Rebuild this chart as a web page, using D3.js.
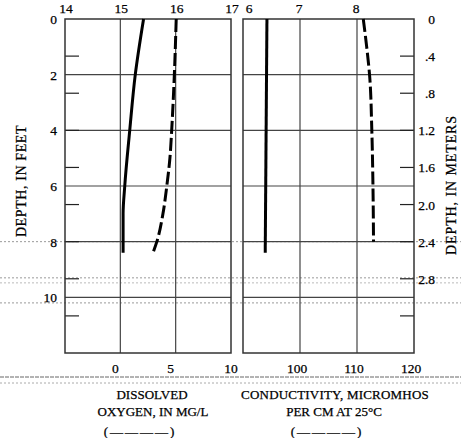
<!DOCTYPE html>
<html><head><meta charset="utf-8">
<script src="https://cdn.jsdelivr.net/npm/d3@7"></script>
<style>
html,body{margin:0;padding:0;background:#fff;}
svg{display:block;}
text{font-family:"Liberation Serif","DejaVu Serif",serif;fill:#000;stroke:#000;stroke-width:0.25;}
</style></head>
<body>
<svg id="chart" width="461" height="438"></svg>
<script>
// ---- data (depth in feet) ----
const tempDepth = [0, 2, 4, 6, 7, 8.4];
const tempValues = [15.42, 15.27, 15.17, 15.08, 15.05, 15.05];      // water temperature, deg C (top left axis)
const doDepth = [0, 2, 4, 5, 6, 7, 8, 8.4];
const doValues = [5.05, 4.88, 4.64, 4.48, 4.2, 3.85, 3.3, 2.95];    // dissolved oxygen, mg/L (bottom left axis)
const phDepth = [0, 8.4];
const phValues = [6.42, 6.39];                                      // pH (top right axis)
const condDepth = [0, 1, 2, 4, 6, 8];
const condValues = [111.1, 111.7, 112.2, 112.6, 112.8, 112.9];      // conductivity (bottom right axis)

const tempTicks = [14, 15, 16, 17];
const doTicks = [0, 5, 10];
const phTicks = [6, 7, 8];
const condTicks = [100, 110, 120];
const feetTicks = [0, 2, 4, 6, 8, 10];
const feetGrid = [2, 4, 6, 8, 10];
const meterLabels = [0, 0.4, 0.8, 1.2, 1.6, 2.0, 2.4, 2.8];
const meterTicks = [0.4, 0.8, 1.2, 1.6, 2.0, 2.4, 2.8, 3.2];
const meterLabelText = ["0", ".4", ".8", "1.2", "1.6", "2.0", "2.4", "2.8"];
const scanLineDepths = [9.3, 9.48, 10.2];   // faint dotted scan lines in the reference

// ---- layout ----
const yTop = 19, yBot = 353;
const L = {x0: 65, x1: 231}, R = {x0: 243, x1: 414};
const svg = d3.select("#chart");

const yFt = d3.scaleLinear().domain([0, 12]).range([yTop, yBot]);
const yM = d3.scaleLinear().domain([0, 3.6]).range([yTop, yBot]);
const xTemp = d3.scaleLinear().domain([14, 17]).range([L.x0, L.x1]);
const xDO = d3.scaleLinear().domain([-5, 10]).range([L.x0, L.x1]);
const xPH = d3.scaleLinear().domain([6, 9]).range([R.x0, R.x1]);
const xCond = d3.scaleLinear().domain([90, 120]).range([R.x0, R.x1]);

// scan artifacts (faint dotted lines)
const art = svg.append("g");
scanLineDepths.forEach((d, i) => {
  art.append("line").attr("x1", 0).attr("x2", 461)
    .attr("y1", yFt(d)).attr("y2", yFt(d))
    .attr("stroke", i === 1 ? "#bbb" : "#999").attr("stroke-width", 1)
    .attr("stroke-dasharray", "2,2");
});
art.append("line").attr("x1", 0).attr("x2", 461).attr("y1", yFt(8)).attr("y2", yFt(8))
  .attr("stroke", "#999").attr("stroke-dasharray", "2,2");

// grid
const grid = svg.append("g").attr("stroke", "#444").attr("stroke-width", 1.2);
[L, R].forEach(p => {
  feetGrid.forEach(d => {
    grid.append("line").attr("x1", p.x0).attr("x2", p.x1).attr("y1", yFt(d)).attr("y2", yFt(d));
  });
});
[15, 16].forEach(v => grid.append("line").attr("x1", xTemp(v)).attr("x2", xTemp(v)).attr("y1", yTop).attr("y2", yBot));
[7, 8].forEach(v => grid.append("line").attr("x1", xPH(v)).attr("x2", xPH(v)).attr("y1", yTop).attr("y2", yBot));

// meter ticks (inside left border of left panel and right border of right panel)
const mt = svg.append("g").attr("stroke", "#222").attr("stroke-width", 1.2);
meterTicks.forEach(m => {
  mt.append("line").attr("x1", L.x0).attr("x2", L.x0 + 14).attr("y1", yM(m)).attr("y2", yM(m));
  mt.append("line").attr("x1", R.x1 - 14).attr("x2", R.x1).attr("y1", yM(m)).attr("y2", yM(m));
});

// frames
[L, R].forEach(p => {
  svg.append("rect").attr("x", p.x0).attr("y", yTop).attr("width", p.x1 - p.x0).attr("height", yBot - yTop)
    .attr("fill", "none").attr("stroke", "#333").attr("stroke-width", 1.5);
});

// data lines
const mk = (xs, ys, xScale) => d3.line().curve(d3.curveMonotoneY)
  .x((d, i) => xScale(xs[i])).y((d, i) => yFt(ys[i]))(xs);
svg.append("path").attr("d", mk(tempValues, tempDepth, xTemp))
  .attr("fill", "none").attr("stroke", "#000").attr("stroke-width", 3);
svg.append("path").attr("d", mk(doValues, doDepth, xDO))
  .attr("fill", "none").attr("stroke", "#000").attr("stroke-width", 3).attr("stroke-dasharray", "13,4");
svg.append("path").attr("d", mk(phValues, phDepth, xPH))
  .attr("fill", "none").attr("stroke", "#000").attr("stroke-width", 3);
svg.append("path").attr("d", mk(condValues, condDepth, xCond))
  .attr("fill", "none").attr("stroke", "#000").attr("stroke-width", 3).attr("stroke-dasharray", "13,4");

// tick labels
const fs = 13.5;
const tl = svg.append("g").attr("font-size", fs).attr("text-anchor", "middle");
tempTicks.forEach(v => tl.append("text").attr("x", xTemp(v) + 1).attr("y", 13).text(v));
phTicks.forEach((v, i) => tl.append("text").attr("x", xPH(v) + (i === 0 ? 6 : -1)).attr("y", 13).text(v));
doTicks.forEach((v, i) => tl.append("text").attr("x", xDO(v) - (i < 2 ? 5 : 0)).attr("y", 373).text(v));
condTicks.forEach(v => tl.append("text").attr("x", xCond(v) - 3).attr("y", 373).text(v));
feetTicks.forEach(v => svg.append("text").attr("font-size", fs).attr("text-anchor", "end")
  .attr("x", 57).attr("y", yFt(v) + 5).text(v));
meterLabels.forEach((v, i) => svg.append("text").attr("font-size", fs).attr("text-anchor", "end")
  .attr("x", 435).attr("y", yM(v) + 5).text(meterLabelText[i]));

// lines below bottom tick labels (scan artifacts)
svg.append("line").attr("x1", 0).attr("x2", 461).attr("y1", 377).attr("y2", 377)
  .attr("stroke", "#666").attr("stroke-dasharray", "4,1");
svg.append("line").attr("x1", 0).attr("x2", 461).attr("y1", 383).attr("y2", 383)
  .attr("stroke", "#aaa").attr("stroke-dasharray", "2,2");

// axis titles
svg.append("text").attr("font-size", 14).attr("letter-spacing", 0.6).attr("text-anchor", "middle")
  .attr("transform", "translate(26,181) rotate(-90)").text("DEPTH, IN FEET");
svg.append("text").attr("font-size", 14).attr("letter-spacing", 0.9).attr("text-anchor", "middle")
  .attr("transform", "translate(456,185) rotate(-90)").text("DEPTH, IN METERS");

const bt = svg.append("g").attr("font-size", 13).attr("text-anchor", "middle");
bt.append("text").attr("x", 152).attr("y", 399).text("DISSOLVED");
bt.append("text").attr("x", 153).attr("y", 416).text("OXYGEN, IN MG/L");
bt.append("text").attr("x", 140).attr("y", 436).attr("letter-spacing", 2).attr("stroke-width", 0.8).text("(————)");
bt.append("text").attr("x", 335).attr("y", 399).attr("letter-spacing", 0.2).text("CONDUCTIVITY, MICROMHOS");
bt.append("text").attr("x", 334).attr("y", 416).text("PER CM AT 25°C");
bt.append("text").attr("x", 327).attr("y", 436).attr("letter-spacing", 2).attr("stroke-width", 0.8).text("(————)");
</script>
</body></html>
